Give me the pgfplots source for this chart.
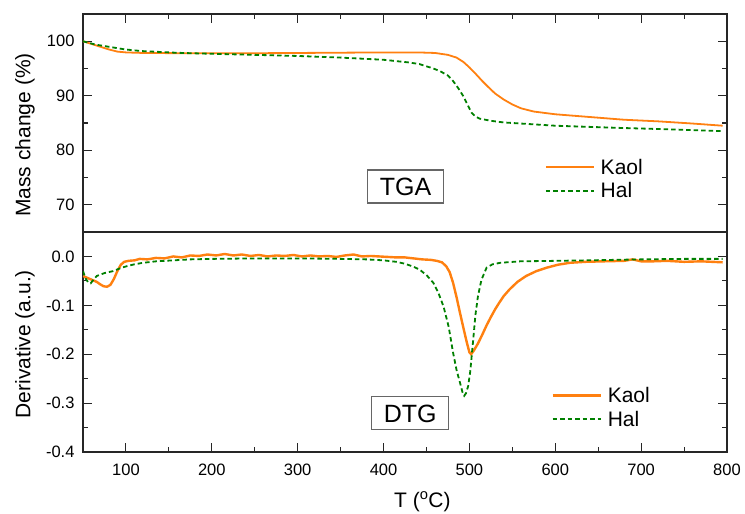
\documentclass[border=0pt]{standalone}
\usepackage{pgfplots}
\pgfplotsset{compat=1.18}
\usepackage{fontspec}
\setmainfont{Liberation Sans}
\definecolor{kaol}{RGB}{255,128,16}
\definecolor{hal}{RGB}{0,128,0}
\begin{document}
\begin{tikzpicture}
\useasboundingbox (0,0) rectangle (745pt,514pt);
\pgfplotsset{
  common/.style={
    scale only axis, width=644pt,
    xmin=50, xmax=800,
    /pgf/number format/assume math mode=true,
    axis line style={line width=1.2pt, black!85},
    every tick/.style={line width=1.1pt, black!85},
    tick align=inside,
    major tick length=9pt, minor tick length=5pt,
    xtick={100,200,...,800},
    minor x tick num=1,
    minor y tick num=1,
    tick label style={font=\fontsize{16.5}{19}\selectfont},
    yticklabel style={xshift=-5pt},
    legend cell align=left,
    legend image code/.code={\draw[##1] (0pt,0pt) -- (48pt,0pt);},
  }
}
% ---------------- TGA ----------------
\begin{axis}[common,
  at={(83pt,282pt)}, anchor=south west, height=218pt,
  ymin=65, ymax=105,
  ytick={70,80,90,100},
  yticklabels={70,80,90,100},
  xtick pos=right, ytick pos=both,
  xticklabels={},
  ylabel={Mass change (\%)},
  ylabel style={at={(axis description cs:-0.09,0.445)}, anchor=center, rotate=0, font=\fontsize{21}{25}\selectfont},
  legend style={draw=none, fill=none, at={(0.717,0.345)}, anchor=north west,
    font=\fontsize{21}{25}\selectfont, row sep=3pt, inner sep=0pt, nodes={inner sep=2pt}},
]
\addplot[color=kaol, line width=1.8pt] coordinates {
(50,100.0) (60,99.5) (70,99.0) (80,98.5) (90,98.1) (100,97.95) (120,97.85) (170,97.8)
(250,97.8) (300,97.85) (350,97.9) (400,97.95) (440,97.95) (460,97.85) (475,97.5)
(485,97.0) (493,96.2) (500,95.2) (508,93.9) (515,92.7) (522,91.6) (530,90.4)
(540,89.3) (550,88.4) (560,87.7) (575,87.1) (600,86.6) (640,86.1) (680,85.6)
(720,85.3) (760,84.9) (795,84.5)
};
\addlegendentry{\hspace{4pt}Kaol}
\addplot[color=hal, line width=1.8pt, dash pattern=on 4.5pt off 3pt] coordinates {
(50,100.0) (64,99.4) (79.5,99.0) (99,98.5) (118,98.2) (157,97.9) (176,97.8)
(200,97.7) (250,97.5) (300,97.3) (350,97.0) (400,96.6) (430,96.1) (442,95.8)
(458,95.0) (466,94.5) (475,93.7) (481,92.7) (487,91.4) (493,89.9) (498,88.3)
(502.5,86.9) (507,86.2) (512,85.8) (525,85.4) (540,85.1) (570,84.8) (600,84.5)
(675,84.1) (740,83.8) (795,83.5)
};
\addlegendentry{\hspace{4pt}Hal}
\node[draw=black!60, line width=1.1pt, fill=white, font=\fontsize{25}{30}\selectfont,
  inner xsep=12pt, inner ysep=7.5pt, text height=18pt, text depth=0pt]
  at (rel axis cs:0.5008,0.2087) {TGA};
\end{axis}
% ---------------- DTG ----------------
\begin{axis}[common,
  at={(83pt,62pt)}, anchor=south west, height=220pt,
  ymin=-0.4, ymax=0.05,
  ytick={-0.4,-0.3,-0.2,-0.1,0},
  yticklabels={-0.4,-0.3,-0.2,-0.1,0.0},
  xticklabels={100,200,300,400,500,600,700,800},
  xticklabel style={yshift=-8pt},
  xtick pos=left, ytick pos=both,
  xlabel={T (\textsuperscript{o}C)},
  xlabel style={at={(axis description cs:0.527,-0.227)}, anchor=center, font=\fontsize{21}{25}\selectfont},
  ylabel={Derivative (a.u.)},
  ylabel style={at={(axis description cs:-0.09,0.49)}, anchor=center, rotate=0, font=\fontsize{21}{25}\selectfont},
  legend style={draw=none, fill=none, at={(0.727,0.305)}, anchor=north west,
    font=\fontsize{21}{25}\selectfont, row sep=3pt, inner sep=0pt, nodes={inner sep=2pt}},
]
\addplot[color=kaol, line width=2.4pt] coordinates {
(50,-0.040) (54,-0.043) (58,-0.046) (62,-0.049) (66,-0.052) (70,-0.057) (74,-0.061)
(78,-0.062) (82,-0.058) (86,-0.046) (90,-0.030) (94,-0.017) (98,-0.011) (103,-0.009)
(110,-0.008) (116,-0.005) (125,-0.006) (135,-0.003) (145,-0.004) (155,0.000)
(165,-0.002) (175,0.002) (185,0.001) (195,0.004) (205,0.002) (215,0.005) (225,0.002)
(235,0.004) (245,0.001) (255,0.003) (265,0.000) (275,0.002) (285,0.001) (295,0.003)
(305,0.000) (315,0.002) (325,0.000) (335,0.001) (345,-0.001) (355,0.002) (365,0.004)
(375,0.000) (385,0.001) (395,0.000) (405,-0.001) (415,-0.002) (425,-0.002) (435,-0.004)
(445,-0.006) (455,-0.007) (462,-0.009) (468,-0.012) (473,-0.020) (477,-0.032)
(481,-0.054) (485,-0.083) (489,-0.115) (493,-0.146) (497,-0.176) (500,-0.196)
(502,-0.200) (505,-0.193) (510,-0.178) (515,-0.160) (520,-0.141) (525,-0.124)
(530,-0.108) (535,-0.094) (540,-0.081) (547,-0.067) (556,-0.052) (566,-0.040) (578,-0.030)
(590,-0.023) (603,-0.017) (617,-0.013) (635,-0.011) (656,-0.010) (680,-0.009)
(690,-0.006) (700,-0.010) (714,-0.010) (730,-0.009) (750,-0.011) (770,-0.010) (795,-0.012)
};
\addlegendentry{\hspace{4pt}Kaol}
\addplot[color=hal, line width=1.8pt, dash pattern=on 4.5pt off 3pt] coordinates {
(50,-0.030) (53,-0.045) (56,-0.053) (59,-0.055) (62,-0.048) (66,-0.040) (75,-0.034)
(85,-0.030) (95,-0.023) (101,-0.020) (110,-0.016) (120,-0.013) (135,-0.010)
(155,-0.008) (175,-0.006) (200,-0.005) (250,-0.004) (300,-0.004) (350,-0.005)
(380,-0.006) (400,-0.008) (415,-0.011) (425,-0.015) (435,-0.021) (442,-0.027)
(450,-0.038) (458,-0.054) (464,-0.075) (470,-0.103) (476,-0.145) (481,-0.197)
(485,-0.232) (489,-0.258) (492,-0.278) (494,-0.285) (496,-0.280) (498.6,-0.265)
(501,-0.235) (504.5,-0.169) (507,-0.120) (510,-0.081) (514,-0.048) (520,-0.023)
(527,-0.016) (536,-0.013) (559,-0.010) (600,-0.009) (636,-0.008) (700,-0.006)
(750,-0.005) (795,-0.005)
};
\addlegendentry{\hspace{4pt}Hal}
\node[draw=black!60, line width=1.1pt, fill=white, font=\fontsize{25}{30}\selectfont,
  inner xsep=12pt, inner ysep=7.5pt, text height=18pt, text depth=0pt]
  at (rel axis cs:0.508,0.177) {DTG};
\end{axis}
\end{tikzpicture}
\end{document}
